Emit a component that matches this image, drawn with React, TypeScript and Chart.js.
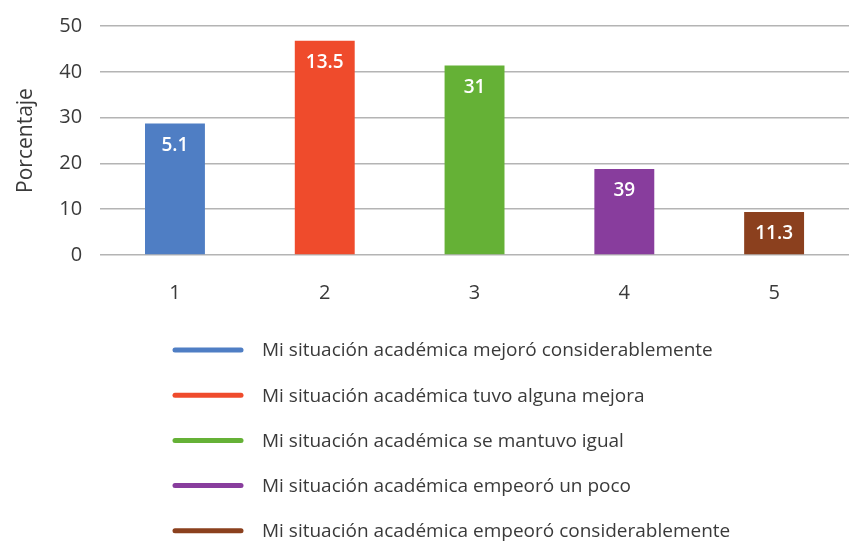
import React, { useEffect, useRef } from "react";
import { Chart, registerables } from "chart.js";

Chart.register(...registerables);

const categories = ["1", "2", "3", "4", "5"];
const barHeights = [28.7, 46.8, 41.4, 18.8, 9.4];
const valueLabels = ["5.1", "13.5", "31", "39", "11.3"];
const seriesNames = [
  "Mi situación académica mejoró considerablemente",
  "Mi situación académica tuvo alguna mejora",
  "Mi situación académica se mantuvo igual",
  "Mi situación académica empeoró un poco",
  "Mi situación académica empeoró considerablemente",
];
const barColors = ["#4F7EC4", "#EF4B2C", "#65B136", "#883D9D", "#8B401E"];
const yAxisTitle = "Porcentaje";

const FONT = "'Open Sans', 'Noto Sans', sans-serif";
const TEXT = "#3a3a3a";

const valueLabelPlugin = {
  id: "valueLabels",
  afterDatasetsDraw(chart: any) {
    const ctx = chart.ctx;
    const meta = chart.getDatasetMeta(0);
    ctx.save();
    ctx.fillStyle = "#ffffff";
    ctx.font = `600 19px ${FONT}`;
    ctx.textAlign = "center";
    ctx.textBaseline = "middle";
    meta.data.forEach((el: any, i: number) => {
      ctx.fillText(valueLabels[i], el.x, el.y + 22);
    });
    ctx.restore();
  },
};

const customLegendPlugin = {
  id: "customLegend",
  afterDraw(chart: any) {
    const ctx = chart.ctx;
    const startY = 350;
    const gap = 45.2;
    ctx.save();
    ctx.font = `400 19px ${FONT}`;
    ctx.textAlign = "left";
    ctx.textBaseline = "middle";
    seriesNames.forEach((name, i) => {
      const y = startY + i * gap;
      ctx.strokeStyle = barColors[i];
      ctx.lineWidth = 5;
      ctx.lineCap = "round";
      ctx.beginPath();
      ctx.moveTo(175, y);
      ctx.lineTo(241, y);
      ctx.stroke();
      ctx.fillStyle = TEXT;
      ctx.fillText(name, 262, y + 1);
    });
    ctx.restore();
  },
};

export default function App() {
  const canvasRef = useRef<HTMLCanvasElement | null>(null);

  useEffect(() => {
    document.body.style.margin = "0";
    const canvas = canvasRef.current;
    if (!canvas) return;
    const chart = new Chart(canvas, {
      type: "bar",
      data: {
        labels: categories,
        datasets: [
          {
            data: barHeights,
            backgroundColor: barColors,
            borderWidth: 0,
            barPercentage: 0.4,
            categoryPercentage: 1,
          },
        ],
      },
      options: {
        animation: false,
        responsive: true,
        maintainAspectRatio: false,
        layout: { padding: { top: 26, right: 0, bottom: 210, left: 4 } },
        plugins: {
          legend: { display: false },
          tooltip: { enabled: false },
        },
        scales: {
          x: {
            grid: { display: false, drawTicks: false },
            border: { display: false },
            ticks: {
              color: TEXT,
              font: { family: FONT, size: 20 },
              padding: 26,
            },
          },
          y: {
            min: 0,
            max: 50,
            afterFit: (scale: any) => {
              scale.paddingTop = 2;
            },
            grid: { color: "#b4b4b4", lineWidth: 1.5, drawTicks: false },
            border: { display: false },
            ticks: {
              stepSize: 10,
              color: TEXT,
              font: { family: FONT, size: 20 },
              padding: 18,
            },
            title: {
              display: true,
              text: yAxisTitle,
              color: TEXT,
              font: { family: FONT, size: 21 },
              padding: { top: 9, bottom: 3 },
            },
          },
        },
      },
      plugins: [valueLabelPlugin, customLegendPlugin],
    });
    return () => chart.destroy();
  }, []);

  return (
    <div style={{ width: "849px", height: "541px", position: "relative" }}>
      <canvas ref={canvasRef} />
    </div>
  );
}
